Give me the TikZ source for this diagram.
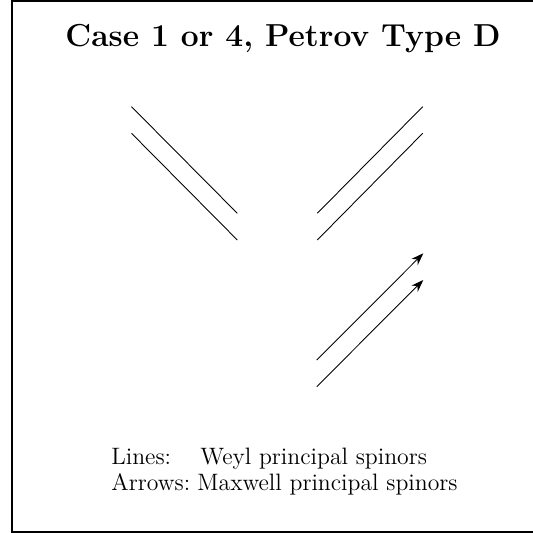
\documentclass[tikz,border=0pt]{standalone}
\usepackage{xcolor}
\usetikzlibrary{arrows.meta}

\begin{document}
\begin{tikzpicture}[x=0.02cm,y=-0.02cm,font=\fontsize{13.5}{16}\selectfont,
  spinor/.style={line width=0.5pt},
  legend/.style={anchor=base west,inner sep=0pt}]
\useasboundingbox (0,0) rectangle (532,533);
\draw[line width=1.1pt] (540,1) -- (12,1) -- (12,532) -- (540,532);
\node[font=\fontsize{18.1}{22}\selectfont\bfseries,anchor=base] (title) at (283,47) {Case 1 or 4, Petrov Type D};
% Weyl principal spinors
\coordinate (wa1) at (131.5,106.7); \coordinate (wa2) at (237.3,213.3);
\coordinate (wb1) at (131.5,133.3); \coordinate (wb2) at (237.3,240);
\coordinate (wc1) at (317.3,213.3); \coordinate (wc2) at (422.7,106.7);
\coordinate (wd1) at (317.3,240);   \coordinate (wd2) at (422.7,133.3);
\draw[spinor] (wa1) -- (wa2);
\draw[spinor] (wb1) -- (wb2);
\draw[spinor] (wc1) -- (wc2);
\draw[spinor] (wd1) -- (wd2);
% Maxwell principal spinors
\coordinate (ma1) at (316.7,360); \coordinate (ma2) at (423.3,253.3);
\coordinate (mb1) at (316.7,386.7); \coordinate (mb2) at (423.3,280);
\draw[spinor,-{Stealth[length=7pt,width=5pt]}] (ma1) -- (ma2);
\draw[spinor,-{Stealth[length=7pt,width=5pt]}] (mb1) -- (mb2);
\node[legend] (lines) at (111,464) {Lines:};
\node[legend] (weyl) at (200,464) {Weyl principal spinors};
\node[legend] (arrows) at (111,490) {Arrows:};
\node[legend] (maxwell) at (197,490) {Maxwell principal spinors};
\end{tikzpicture}
\end{document}
